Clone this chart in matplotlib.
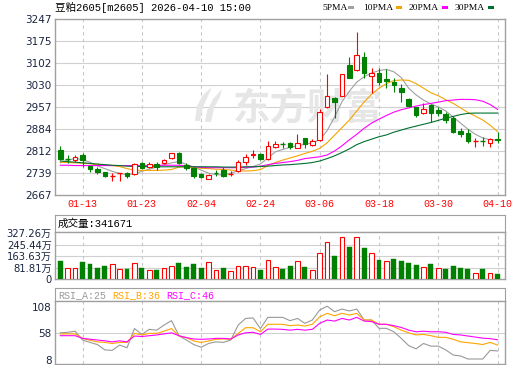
import numpy as np
import matplotlib
matplotlib.use('Agg')
import matplotlib.pyplot as plt
from matplotlib.patches import Rectangle, Polygon

# daily bars
opens = [2816, 2788, 2784, 2800, 2764, 2753, 2745, 2729, 2740, 2739,
         2737, 2772, 2761, 2769, 2772, 2789, 2807, 2767, 2758, 2736,
         2720, 2740, 2750, 2736, 2747, 2777, 2800, 2802, 2786, 2825,
         2836, 2840, 2824, 2855, 2833, 2849, 2959, 2987, 2995, 3096,
         3080, 3122, 3060, 3069, 3049, 3041, 3020, 2983, 2959, 2939,
         2964, 2948, 2935, 2923, 2879, 2873, 2845, 2848, 2840, 2852]
closes = [2786, 2786, 2792, 2782, 2754, 2743, 2732, 2731, 2741, 2731,
          2769, 2756, 2771, 2761, 2783, 2805, 2774, 2756, 2732, 2726,
          2734, 2739, 2730, 2738, 2776, 2793, 2803, 2786, 2830, 2835,
          2834, 2827, 2840, 2835, 2847, 2942, 2994, 2976, 3066, 3054,
          3129, 3071, 3069, 3041, 3043, 3030, 3006, 2961, 2932, 2950,
          2939, 2939, 2915, 2877, 2869, 2847, 2846, 2847, 2851, 2849]
highs = [2830, 2800, 2800, 2805, 2765, 2759, 2745, 2741, 2741, 2745,
         2774, 2778, 2778, 2776, 2786, 2808, 2810, 2772, 2761, 2739,
         2736, 2750, 2761, 2747, 2783, 2802, 2816, 2806, 2846, 2846,
         2843, 2843, 2868, 2857, 2853, 2950, 3066, 2992, 3067, 3122,
         3204, 3140, 3087, 3085, 3082, 3052, 3034, 2987, 2959, 2970,
         2968, 2959, 2943, 2928, 2890, 2884, 2855, 2860, 2855, 2877]
lows = [2783, 2775, 2778, 2761, 2744, 2738, 2726, 2715, 2715, 2723,
        2733, 2753, 2756, 2752, 2770, 2786, 2770, 2750, 2725, 2723,
        2720, 2732, 2728, 2732, 2745, 2767, 2789, 2782, 2783, 2822,
        2822, 2820, 2822, 2822, 2829, 2846, 2956, 2923, 2993, 3052,
        3077, 3052, 3003, 3030, 3020, 3008, 2975, 2959, 2926, 2934,
        2910, 2928, 2906, 2873, 2860, 2840, 2827, 2829, 2827, 2838]

ma5 = [2774, 2782, 2789, 2784, 2776, 2764, 2755, 2746, 2739, 2735,
       2738, 2746, 2753, 2760, 2768, 2774, 2778, 2769, 2760, 2750,
       2740, 2735, 2734, 2740, 2748, 2755, 2762, 2770, 2790, 2810,
       2818, 2825, 2830, 2835, 2840, 2850, 2880, 2925, 2975, 3010,
       3040, 3058, 3070, 3078, 3082, 3074, 3055, 3020, 2998, 2981,
       2968, 2958, 2945, 2925, 2905, 2885, 2868, 2856, 2850, 2849]
ma10 = [2776, 2775, 2774, 2773, 2771, 2769, 2767, 2765, 2762, 2755,
        2750, 2749, 2749, 2749, 2750, 2752, 2760, 2761, 2758, 2756,
        2755, 2753, 2752, 2750, 2748, 2747, 2748, 2752, 2765, 2775,
        2783, 2790, 2797, 2805, 2812, 2822, 2840, 2865, 2890, 2915,
        2945, 2975, 3000, 3020, 3035, 3045, 3047, 3046, 3035, 3020,
        3005, 2995, 2982, 2970, 2955, 2940, 2928, 2915, 2898, 2877]
ma20 = [2766, 2766, 2765, 2765, 2765, 2765, 2765, 2765, 2765, 2765,
        2765, 2765, 2765, 2766, 2766, 2766, 2766, 2764, 2761, 2759,
        2758, 2758, 2758, 2758, 2758, 2759, 2760, 2763, 2768, 2772,
        2775, 2778, 2782, 2788, 2791, 2794, 2800, 2813, 2830, 2850,
        2868, 2888, 2905, 2918, 2930, 2941, 2949, 2955, 2961, 2966,
        2970, 2974, 2979, 2981, 2983, 2983, 2982, 2977, 2966, 2950]
ma30 = [2780, 2778, 2776, 2774, 2772, 2770, 2768, 2766, 2765, 2763,
        2762, 2762, 2761, 2761, 2761, 2761, 2761, 2761, 2761, 2761,
        2761, 2761, 2760, 2760, 2760, 2761, 2761, 2762, 2763, 2765,
        2767, 2768, 2770, 2772, 2775, 2780, 2788, 2797, 2808, 2820,
        2834, 2844, 2852, 2860, 2866, 2875, 2882, 2889, 2895, 2901,
        2907, 2914, 2921, 2927, 2933, 2937, 2938, 2938, 2938, 2938]

# volume in 万 (10k lots), up flag = red bar
volumes = [129.3, 77.6, 77.6, 122.2, 108.1, 79.9, 94.0, 105.8, 70.5, 70.5,
           112.8, 79.9, 65.8, 65.8, 77.6, 91.7, 115.2, 87.0, 108.1, 79.9,
           119.9, 65.8, 79.9, 56.4, 91.7, 91.7, 84.6, 65.8, 134.0, 84.6,
           72.9, 94.0, 126.9, 87.0, 65.8, 183.4, 260.9, 164.6, 296.2, 228.0,
           296.2, 221.0, 185.7, 136.4, 126.9, 143.4, 129.3, 117.5, 101.1, 84.6,
           108.1, 77.6, 72.9, 94.0, 79.9, 72.9, 42.3, 72.9, 42.3, 34.17]
vol_up = [0, 1, 1, 0, 0, 0, 0, 1, 1, 0,
          1, 0, 1, 0, 1, 1, 0, 0, 0, 0,
          1, 1, 0, 1, 1, 1, 1, 0, 1, 1,
          0, 0, 1, 0, 1, 1, 1, 0, 1, 0,
          1, 0, 1, 0, 1, 0, 0, 0, 0, 1,
          0, 1, 0, 0, 0, 0, 1, 0, 1, 0]
last_volume = 341671

rsi_a = [59, 60, 62, 45.5, 41, 37, 27, 26, 36, 31,
         67, 56, 65.5, 64, 73.6, 81.8, 53.6, 45.5, 37, 32,
         39, 42, 41, 45.5, 73.6, 86, 87, 67, 88, 88,
         88, 81.8, 86, 76.8, 83, 101.8, 109, 98.6, 103.6, 100,
         103.6, 83, 83, 67.4, 67.4, 61, 48.6, 35, 29, 39,
         34, 34, 27, 17.4, 15.5, 9.9, 9.9, 9.9, 26, 25]
rsi_b = [57, 57, 57, 48.6, 45, 42, 41, 39, 41, 41,
         58, 55, 58, 58, 62, 67, 53, 50, 43.6, 41,
         43.6, 46.8, 47.4, 46.8, 58, 68.6, 68.6, 61, 75, 75,
         75, 72.4, 73.6, 71.8, 75, 89, 95.5, 91, 95.5, 92.4,
         95.5, 83, 83, 75, 75, 70.5, 64, 59, 55, 56,
         53.6, 50.5, 50.5, 46.8, 42, 40.5, 39, 37, 41, 36]
rsi_c = [53.6, 53.6, 53.6, 48.6, 47, 45.5, 44, 42, 44, 42,
         53, 52, 53.6, 55, 57, 59, 53.6, 50, 47.4, 46.8,
         47.4, 48.6, 48.6, 47.4, 55, 59, 60, 56, 66, 66,
         65.5, 64, 65.5, 64, 65.5, 76.8, 83, 81, 86, 83,
         88, 81, 80, 75, 75, 72.4, 69, 64, 61, 62,
         61, 61, 60, 56, 55, 53, 51, 49, 48, 46]

date_idx = [3, 11, 19, 27, 35, 43, 51, 59]
date_labels = ['01-13', '01-23', '02-04', '02-24', '03-06', '03-18', '03-30', '04-10']
price_ticks = ['2667', '2739', '2812', '2884', '2957', '3030', '3102', '3175', '3247']
vol_ticks = [0, 81.81, 163.63, 245.44, 327.26]
rsi_ticks = [8, 58, 108]

W, H = 520, 365
RED = '#ff0000'
GREEN = '#008000'
FRAME = '#a0a0a0'
LABEL = '#1a2440'
MONO = ['Liberation Mono', 'Noto Sans CJK SC']
SANS = ['DejaVu Sans', 'Noto Sans CJK SC']

fig = plt.figure(figsize=(W / 100, H / 100), dpi=100)


def rect(l, t, r, b):
    return [l / W, 1 - b / H, (r - l) / W, (b - t) / H]


def setup(ax, ylim, yticks, ylabels, hgrid, fs=7.5):
    ax.set_xlim(-0.72, 60.0)
    ax.set_ylim(*ylim)
    ax.set_yticks(yticks)
    ax.set_yticklabels(ylabels, family=SANS, fontsize=fs, color=LABEL)
    ax.set_xticks(date_idx)
    ax.set_xticklabels([])
    ax.tick_params(length=0, pad=2.5)
    for v in hgrid:
        ax.axhline(v, color='#d0d0d0', lw=0.8, zorder=0.5)
    for d in date_idx:
        ax.axvline(d, color='#c8c8c8', lw=0.8, ls=(0, (3, 3)), zorder=0.5)
    for s in ax.spines.values():
        s.set_color(FRAME)
        s.set_linewidth(1.0)


# ---- price panel ----
ax = fig.add_axes(rect(55, 19.3, 505, 195.3))
pticks = np.linspace(2667, 3247, 9)
setup(ax, (2667, 3247), pticks, price_ticks, pticks[1:-1])
ax.set_xticklabels(date_labels, family=MONO, fontsize=7.2, color=RED)
ax.tick_params(axis='x', pad=3)
ax.text(0.395, 0.49, '东方财富', transform=ax.transAxes, family='Noto Sans CJK SC',
        fontsize=27, fontweight='bold', color='#e6e6e6', va='center', ha='left', zorder=0.8)

x = np.arange(len(closes))
for i in x:
    o, c, h, l = opens[i], closes[i], highs[i], lows[i]
    col = RED if c > o else GREEN
    ax.vlines(i, l, h, color=col, lw=0.8, zorder=3)
    if abs(c - o) < 3:
        ax.hlines((o + c) / 2, i - 0.33, i + 0.33, color=col, lw=1.0, zorder=4)
    else:
        ax.bar(i, abs(c - o), bottom=min(o, c), width=0.62,
               facecolor='white' if c > o else GREEN, edgecolor=col, lw=0.8, zorder=4)

ax.plot(x, ma5, color='#a0a0a0', lw=0.8, zorder=2)
ax.plot(x, ma10, color='#f5a500', lw=0.8, zorder=2)
ax.plot(x, ma20, color='#ff00ff', lw=0.8, zorder=2)
ax.plot(x, ma30, color='#007030', lw=0.8, zorder=2)

# ---- volume panel ----
vt = fig.add_axes(rect(55, 215, 505, 232.3))
vt.set_xticks([]); vt.set_yticks([])
for s in vt.spines.values():
    s.set_color(FRAME)
vt.text(0.005, 0.5, f'成交量:{last_volume}', transform=vt.transAxes,
        family=MONO, fontsize=7.6, va='center', ha='left', color='black')

av = fig.add_axes(rect(55, 232.3, 505, 279.3))
vlabels = ['0'] + [f'{v:.2f}万' for v in vol_ticks[1:]]
setup(av, (0, 332), vol_ticks, vlabels, vol_ticks[1:-1], fs=7.2)
for i in x:
    if vol_up[i]:
        av.bar(i, volumes[i], width=0.62, facecolor='white', edgecolor=RED, lw=0.8, zorder=3)
    else:
        av.bar(i, volumes[i], width=0.66, facecolor=GREEN, edgecolor=GREEN, lw=0.3, zorder=3)

# ---- RSI panel ----
rt = fig.add_axes(rect(55, 288.3, 505, 300.7))
rt.set_xticks([]); rt.set_yticks([])
for s in rt.spines.values():
    s.set_color(FRAME)
rsi_names = [('RSI_A', rsi_a, '#999999'), ('RSI_B', rsi_b, '#ffa500'), ('RSI_C', rsi_c, '#ff00ff')]
for k, (name, vals, col) in enumerate(rsi_names):
    rt.text((3 + 54 * k) / 450, 0.45, f'{name}:{vals[-1]:.0f}', transform=rt.transAxes,
            family=MONO, fontsize=7.2, va='center', ha='left', color=col)

ar = fig.add_axes(rect(55, 300.7, 505, 364))
setup(ar, (0.5, 119.25), rsi_ticks, [str(t) for t in rsi_ticks], [58])
for name, vals, col in rsi_names:
    ar.plot(x, vals, color=col, lw=0.8, zorder=2)

# ---- header line + watermark logo (pixel coords) ----
ov = fig.add_axes([0, 0, 1, 1])
ov.set_xlim(0, W)
ov.set_ylim(H, 0)
ov.axis('off')
ov.patch.set_alpha(0)
ov.text(55, 7.5, '豆粕2605[m2605] 2026-04-10 15:00', family=MONO, fontsize=7.6,
        va='center', ha='left', color='black')
legend = [('5PMA', 322, 348, '#a0a0a0'), ('10PMA', 363, 396, '#f5a500'),
          ('20PMA', 409, 442, '#ff00ff'), ('30PMA', 455, 488, '#007030')]
for lab, tx, sx, col in legend:
    ov.text(tx, 7.5, lab, family='Liberation Serif', fontsize=6.8, va='center', ha='left')
    ov.add_patch(Rectangle((sx, 5.7), 5.5, 3.4, facecolor=col, edgecolor='none'))

logo_a = [(212, 87), (203, 95), (197, 106), (195, 121), (200, 121), (203, 107), (208, 96)]
logo_b = [(222, 89), (213, 99), (207, 111), (205, 122), (211, 122), (214, 108), (220, 97)]
for pts in (logo_a, logo_b):
    ov.add_patch(Polygon(pts, closed=True, facecolor='#e6e6e6', edgecolor='none', zorder=0))

fig.savefig('out.png', dpi=100)
